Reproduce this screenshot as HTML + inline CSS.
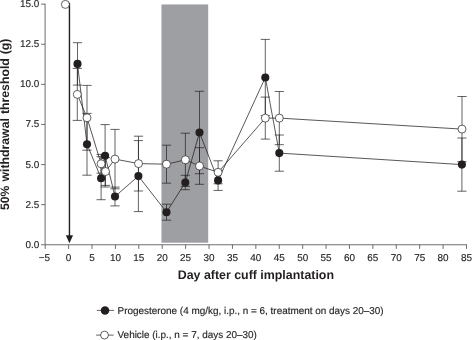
<!DOCTYPE html>
<html lang="en"><head><meta charset="utf-8"><title>Figure</title>
<style>html,body{margin:0;padding:0;background:#fff}body{width:472px;height:340px;overflow:hidden;position:relative}</style></head>
<body>
<svg width="472" height="340" viewBox="0 0 472 340" style="display:block;position:absolute;left:0;top:0;text-rendering:geometricPrecision">
<rect x="0" y="0" width="472" height="340" fill="#fff"/>
<rect x="161.45" y="4.45" width="46.75" height="238.25" fill="#9e9fa3"/>
<g stroke="#5c5d60" stroke-width="0.9" fill="none">
<path d="M45.1 3.65V244.75H467"/>
<path d="M41.1 244.75H45.1"/>
<path d="M41.1 204.65H45.1"/>
<path d="M41.1 164.55H45.1"/>
<path d="M41.1 124.45H45.1"/>
<path d="M41.1 84.35H45.1"/>
<path d="M41.1 44.25H45.1"/>
<path d="M41.1 4.15H45.1"/>
<path d="M45.19 244.75V248.9"/>
<path d="M68.60 244.75V248.9"/>
<path d="M92.00 244.75V248.9"/>
<path d="M115.41 244.75V248.9"/>
<path d="M138.81 244.75V248.9"/>
<path d="M162.22 244.75V248.9"/>
<path d="M185.62 244.75V248.9"/>
<path d="M209.03 244.75V248.9"/>
<path d="M232.44 244.75V248.9"/>
<path d="M255.84 244.75V248.9"/>
<path d="M279.25 244.75V248.9"/>
<path d="M302.65 244.75V248.9"/>
<path d="M326.05 244.75V248.9"/>
<path d="M349.46 244.75V248.9"/>
<path d="M372.87 244.75V248.9"/>
<path d="M396.27 244.75V248.9"/>
<path d="M419.67 244.75V248.9"/>
<path d="M443.08 244.75V248.9"/>
<path d="M466.49 244.75V248.9"/>
</g>
<g font-family="&quot;Liberation Sans&quot;, sans-serif" font-size="9.93" fill="#231f20" stroke="#231f20" stroke-width="0.15">
<text x="39.3" y="247.70" text-anchor="end">0.0</text>
<text x="39.3" y="207.60" text-anchor="end">2.5</text>
<text x="39.3" y="167.50" text-anchor="end">5.0</text>
<text x="39.3" y="127.40" text-anchor="end">7.5</text>
<text x="39.3" y="87.30" text-anchor="end">10.0</text>
<text x="39.3" y="47.20" text-anchor="end">12.5</text>
<text x="39.3" y="7.10" text-anchor="end">15.0</text>
<text x="44.49" y="260.5" text-anchor="middle">−5</text>
<text x="68.60" y="260.5" text-anchor="middle">0</text>
<text x="92.00" y="260.5" text-anchor="middle">5</text>
<text x="115.41" y="260.5" text-anchor="middle">10</text>
<text x="138.81" y="260.5" text-anchor="middle">15</text>
<text x="162.22" y="260.5" text-anchor="middle">20</text>
<text x="185.62" y="260.5" text-anchor="middle">25</text>
<text x="209.03" y="260.5" text-anchor="middle">30</text>
<text x="232.44" y="260.5" text-anchor="middle">35</text>
<text x="255.84" y="260.5" text-anchor="middle">40</text>
<text x="279.25" y="260.5" text-anchor="middle">45</text>
<text x="302.65" y="260.5" text-anchor="middle">50</text>
<text x="326.05" y="260.5" text-anchor="middle">55</text>
<text x="349.46" y="260.5" text-anchor="middle">60</text>
<text x="372.87" y="260.5" text-anchor="middle">65</text>
<text x="396.27" y="260.5" text-anchor="middle">70</text>
<text x="419.67" y="260.5" text-anchor="middle">75</text>
<text x="443.08" y="260.5" text-anchor="middle">80</text>
<text x="466.49" y="260.5" text-anchor="middle">85</text>
</g>
<path d="M77.50 42.70V85.10M72.90 42.70h9.2M72.90 85.10h9.2M87.00 113.40V175.20M82.40 113.40h9.2M82.40 175.20h9.2M101.10 156.70V199.70M96.50 156.70h9.2M96.50 199.70h9.2M105.10 124.60V187.00M100.50 124.60h9.2M100.50 187.00h9.2M115.00 187.10V205.90M110.40 187.10h9.2M110.40 205.90h9.2M138.40 140.60V211.60M133.80 140.60h9.2M133.80 211.60h9.2M166.50 204.20V220.20M161.90 204.20h9.2M161.90 220.20h9.2M185.30 175.30V189.70M180.70 175.30h9.2M180.70 189.70h9.2M199.50 91.30V173.70M194.90 91.30h9.2M194.90 173.70h9.2M218.10 170.40V190.40M213.50 170.40h9.2M213.50 190.40h9.2M265.30 39.40V115.60M260.70 39.40h9.2M260.70 115.60h9.2M279.30 135.00V171.20M274.70 135.00h9.2M274.70 171.20h9.2M461.90 138.00V191.20M457.30 138.00h9.2M457.30 191.20h9.2M77.30 68.40V120.40M72.70 68.40h9.2M72.70 120.40h9.2M87.00 85.40V150.20M82.40 85.40h9.2M82.40 150.20h9.2M101.10 154.40V173.20M96.50 154.40h9.2M96.50 173.20h9.2M105.50 157.60V185.40M100.90 157.60h9.2M100.90 185.40h9.2M115.00 129.40V188.80M110.40 129.40h9.2M110.40 188.80h9.2M138.50 136.20V191.00M133.90 136.20h9.2M133.90 191.00h9.2M166.50 145.20V183.20M161.90 145.20h9.2M161.90 183.20h9.2M185.40 133.20V186.40M180.80 133.20h9.2M180.80 186.40h9.2M199.50 147.70V184.30M194.90 147.70h9.2M194.90 184.30h9.2M218.10 160.80V183.80M213.50 160.80h9.2M213.50 183.80h9.2M265.30 97.10V139.10M260.70 97.10h9.2M260.70 139.10h9.2M279.30 91.50V144.70M274.70 91.50h9.2M274.70 144.70h9.2M462.00 96.50V161.70M457.40 96.50h9.2M457.40 161.70h9.2" stroke="#231f20" stroke-width="0.7" fill="none"/>
<path d="M77.50 63.90L87.00 144.30L101.10 178.20L105.10 155.80L115.00 196.50L138.40 176.10L166.50 212.20L185.30 182.50L199.50 132.50L218.10 180.40L265.30 77.50L279.30 153.10L461.90 164.60" stroke="#231f20" stroke-width="0.75" fill="none"/>
<path d="M77.30 94.40L87.00 117.80L101.10 163.80L105.50 171.50L115.00 159.10L138.50 163.60L166.50 164.20L185.40 159.80L199.50 166.00L218.10 172.30L265.30 118.10L279.30 118.10L462.00 129.10" stroke="#231f20" stroke-width="0.75" fill="none"/>
<path d="M69.45 2.8V237" stroke="#231f20" stroke-width="1.4" fill="none"/>
<path d="M65.85 235.2h7.2l-3.6 8.1z" fill="#231f20"/>
<circle cx="77.50" cy="63.90" r="4.05" fill="#231f20"/>
<circle cx="87.00" cy="144.30" r="4.05" fill="#231f20"/>
<circle cx="101.10" cy="178.20" r="4.05" fill="#231f20"/>
<circle cx="105.10" cy="155.80" r="4.05" fill="#231f20"/>
<circle cx="115.00" cy="196.50" r="4.05" fill="#231f20"/>
<circle cx="138.40" cy="176.10" r="4.05" fill="#231f20"/>
<circle cx="166.50" cy="212.20" r="4.05" fill="#231f20"/>
<circle cx="185.30" cy="182.50" r="4.05" fill="#231f20"/>
<circle cx="199.50" cy="132.50" r="4.05" fill="#231f20"/>
<circle cx="218.10" cy="180.40" r="4.05" fill="#231f20"/>
<circle cx="265.30" cy="77.50" r="4.05" fill="#231f20"/>
<circle cx="279.30" cy="153.10" r="4.05" fill="#231f20"/>
<circle cx="461.90" cy="164.60" r="4.05" fill="#231f20"/>
<circle cx="65.4" cy="4.4" r="4.0" fill="#fff" stroke="#231f20" stroke-width="0.7"/>
<circle cx="77.30" cy="94.40" r="4.0" fill="#fff" stroke="#231f20" stroke-width="0.7"/>
<circle cx="87.00" cy="117.80" r="4.0" fill="#fff" stroke="#231f20" stroke-width="0.7"/>
<circle cx="101.10" cy="163.80" r="4.0" fill="#fff" stroke="#231f20" stroke-width="0.7"/>
<circle cx="105.50" cy="171.50" r="4.0" fill="#fff" stroke="#231f20" stroke-width="0.7"/>
<circle cx="115.00" cy="159.10" r="4.0" fill="#fff" stroke="#231f20" stroke-width="0.7"/>
<circle cx="138.50" cy="163.60" r="4.0" fill="#fff" stroke="#231f20" stroke-width="0.7"/>
<circle cx="166.50" cy="164.20" r="4.0" fill="#fff" stroke="#231f20" stroke-width="0.7"/>
<circle cx="185.40" cy="159.80" r="4.0" fill="#fff" stroke="#231f20" stroke-width="0.7"/>
<circle cx="199.50" cy="166.00" r="4.0" fill="#fff" stroke="#231f20" stroke-width="0.7"/>
<circle cx="218.10" cy="172.30" r="4.0" fill="#fff" stroke="#231f20" stroke-width="0.7"/>
<circle cx="265.30" cy="118.10" r="4.0" fill="#fff" stroke="#231f20" stroke-width="0.7"/>
<circle cx="279.30" cy="118.10" r="4.0" fill="#fff" stroke="#231f20" stroke-width="0.7"/>
<circle cx="462.00" cy="129.10" r="4.0" fill="#fff" stroke="#231f20" stroke-width="0.7"/>
<text x="255.85" y="279" text-anchor="middle" font-family="&quot;Liberation Sans&quot;, sans-serif" font-weight="bold" font-size="12.4" fill="#231f20">Day after cuff implantation</text>
<text transform="translate(9.4 124.3) rotate(-90)" text-anchor="middle" font-family="&quot;Liberation Sans&quot;, sans-serif" font-weight="bold" font-size="12.27" word-spacing="0.6" fill="#231f20">50% withdrawal threshold (g)</text>
<path d="M96.8 310.4H114.1M96.1 335.1H113.6" stroke="#231f20" stroke-width="0.7"/>
<circle cx="105" cy="310.4" r="4.25" fill="#231f20"/>
<circle cx="104.5" cy="335.1" r="3.95" fill="#fff" stroke="#231f20" stroke-width="0.7"/>
<g font-family="&quot;Liberation Sans&quot;, sans-serif" font-size="9.93" fill="#231f20" stroke="#231f20" stroke-width="0.15">
<text x="117.55" y="313.7">Progesterone (4 mg/kg, i.p., n = 6, treatment on days 20–30)</text>
<text x="117.55" y="337.7">Vehicle (i.p., n = 7, days 20–30)</text>
</g>
</svg>
</body></html>
